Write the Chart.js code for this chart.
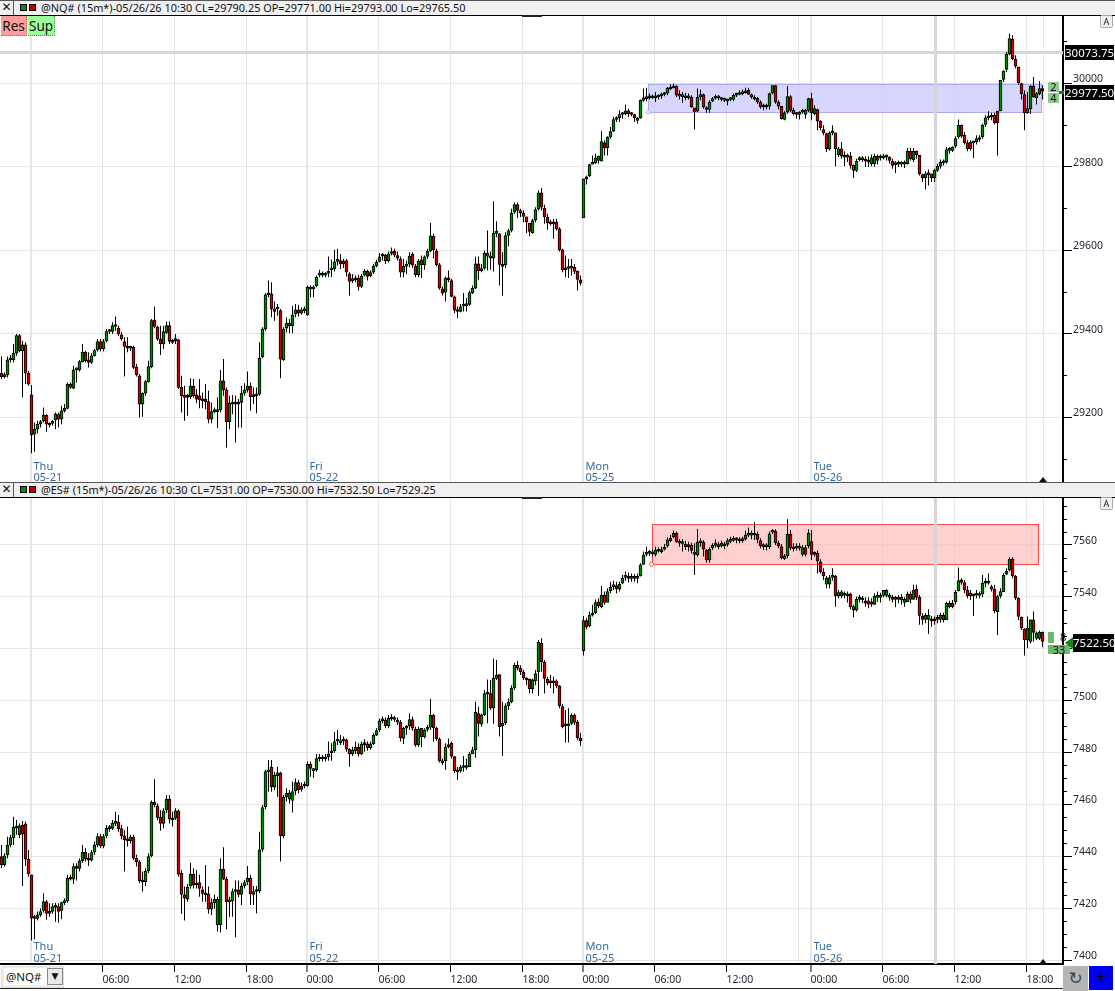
<!DOCTYPE html>
<html><head><meta charset="utf-8">
<script src="https://cdn.jsdelivr.net/npm/chart.js@4"></script>
<style>
html,body{margin:0;padding:0;background:#fff;width:1115px;height:991px;overflow:hidden}
body{position:relative;font-family:"Noto Sans",sans-serif;color:#111}
canvas{position:absolute;left:0}
.hdr{position:absolute;left:0;width:1115px;height:14px;background:#f0f0f0;border-top:1px solid #555;border-bottom:1px solid #000;box-sizing:content-box}
.hdr .x{position:absolute;left:0;top:0;width:13px;height:14px;border-right:1px solid #555;font:12px/13px "DejaVu Sans";text-align:center}
.hdr .g,.hdr .r{position:absolute;top:3px;width:5px;height:5px;border:1px solid #000}
.hdr .g{left:20px;background:#0a8a0a}.hdr .r{left:29px;background:#c00000}
.hdr .t{position:absolute;left:41px;top:0;font:10.9px/14px "Noto Sans";white-space:nowrap}
.btn{position:absolute;top:16px;height:20px;font:13.5px/20px "Noto Sans";text-align:center;box-sizing:border-box;border-right:1px dotted #777;border-bottom:1px dotted #777}
.tag{position:absolute;background:#000;color:#fff;font:11.5px/15px "Noto Sans";text-align:center}
.box{position:absolute;color:#111;font:11px/10px "Noto Sans";text-align:center}
.a{position:absolute;left:1100px;width:13px;height:13px;background:#f2f2f2;border:1px solid #aaa;box-sizing:border-box;font:9px/11px "Noto Sans";text-align:center;border-radius:2px}
.tri{position:absolute;width:0;height:0;border-left:4px solid transparent;border-right:4px solid transparent;border-bottom:5px solid #111}
.bump{position:absolute;left:522px;width:20px;height:2px;background:#222}
</style></head><body>
<canvas id="nq" width="1115" height="467" style="top:16px;width:1115px;height:467px"></canvas>
<canvas id="es" width="1115" height="494" style="top:497px;width:1115px;height:494px"></canvas>

<div class="hdr" style="top:0"><div class="x">✕</div><div class="g"></div><div class="r"></div><div class="t">@NQ# (15m*)-05/26/26 10:30 CL=29790.25 OP=29771.00 Hi=29793.00 Lo=29765.50</div></div>
<div class="hdr" style="top:482px"><div class="x">✕</div><div class="g"></div><div class="r"></div><div class="t">@ES# (15m*)-05/26/26 10:30 CL=7531.00 OP=7530.00 Hi=7532.50 Lo=7529.25</div></div>
<div class="bump" style="top:15px"></div><div class="bump" style="top:497px"></div>
<div class="btn" style="left:1px;width:26px;background:#ff9c9c">Res</div>
<div class="btn" style="left:28px;width:27px;background:#9cff9c">Sup</div>
<div class="a" style="top:15px">A</div><div class="a" style="top:497px">A</div>
<div class="tag" style="left:1065px;top:45px;width:49px;height:15px">30073.75</div>
<div class="tag" style="left:1065px;top:85px;width:49px;height:15px">29977.50</div>
<div class="box" style="left:1048px;top:82px;width:11px;height:10px;background:#8fcb8f">2</div>
<div class="box" style="left:1048px;top:93px;width:11px;height:10px;background:#8fcb8f">4</div>
<div style="position:absolute;left:1059px;top:91px;width:5px;height:3px;background:#0a8a0a"></div>
<div class="tag" style="left:1073px;top:634px;width:41px;height:18px;line-height:18px">7522.50</div>
<div class="box" style="left:1048px;top:632px;width:6px;height:11px;background:#6fb86f"></div>
<div class="box" style="left:1060px;top:632px;width:6px;height:11px">8</div>
<div class="box" style="left:1048px;top:645px;width:22px;height:9px;background:#6fb86f;line-height:9px">33</div>
<div style="position:absolute;left:1065px;top:637px;width:0;height:0;border-top:6px solid transparent;border-bottom:6px solid transparent;border-right:8px solid #0a8a0a"></div>
<div class="tri" style="left:1039px;top:477px"></div><div class="tri" style="left:1039px;top:959px"></div>

<div style="position:absolute;left:1px;top:966px;width:63px;height:22px;background:#eee;border:1px solid #ddd;box-sizing:border-box"></div>
<div style="position:absolute;left:4px;top:968px;width:42px;height:17px;background:#fff;font:11.5px/17px 'Noto Sans';padding-left:2px">@NQ#</div>
<div style="position:absolute;left:47px;top:968px;width:16px;height:17px;background:#e8e8e8;border:1px solid #888;box-sizing:border-box;font:9px/15px 'DejaVu Sans';text-align:center">▼</div>
<div style="position:absolute;left:0;top:988px;width:1063px;height:1px;background:#222"></div>
<div style="position:absolute;left:1063px;top:966px;width:25px;height:25px;background:#b5b5b5;font:17px/24px 'DejaVu Sans';text-align:center;color:#444">↻</div>
<div style="position:absolute;left:1089px;top:966px;width:24px;height:24px;background:#0000f0;font:13px/22px 'DejaVu Sans';text-align:center;color:#000">+</div>

<script>
const nqOpen=[
29305,29301,29301,29337,29337,29353,29395,29359,29373,29305,
29253,29159,29171,29183,29191,29205,29185,29185,29193,29207,
29195,29215,29221,29279,29269,29313,29313,29333,29355,29337,
29331,29347,29361,29381,29363,29383,29407,29405,29417,29413,
29397,29381,29367,29365,29367,29319,29299,29231,29257,29285,
29321,29433,29415,29387,29375,29403,29419,29381,29385,29385,
29271,29251,29249,29249,29274,29253,29251,29243,29243,29237,
29195,29213,29213,29217,29287,29265,29189,29231,29231,29231,
29235,29257,29265,29274,29251,29251,29255,29345,29411,29497,
29495,29459,29459,29455,29337,29413,29419,29419,29447,29457,
29449,29455,29445,29511,29507,29514,29540,29540,29540,29545,
29553,29555,29573,29575,29573,29575,29543,29527,29529,29533,
29513,29540,29549,29539,29547,29563,29573,29586,29588,29574,
29592,29597,29587,29579,29547,29561,29567,29590,29562,29541,
29577,29565,29585,29598,29633,29598,29565,29507,29499,29533,
29527,29488,29455,29453,29466,29467,29470,29498,29509,29567,
29551,29557,29593,29584,29581,29640,29639,29565,29565,29635,
29647,29691,29709,29695,29688,29680,29665,29642,29672,29699,
29737,29701,29679,29665,29665,29667,29651,29601,29557,29556,
29557,29559,29549,29529,29677,29771,29778,29806,29809,29815,
29813,29857,29845,29871,29885,29913,29917,29925,29927,29934,
29925,29925,29914,29917,29959,29963,29965,29965,29965,29967,
29970,29973,29976,29986,29989,29993,29969,29968,29965,29965,
29967,29941,29933,29967,29973,29937,29937,29957,29964,29965,
29961,29959,29957,29961,29961,29971,29973,29975,29977,29983,
29973,29962,29964,29954,29943,29943,29945,29977,29994,29954,
29945,29913,29931,29968,29935,29925,29925,29931,29925,29935,
29963,29927,29937,29909,29889,29879,29842,29881,29881,29829,
29843,29823,29823,29825,29803,29791,29817,29817,29815,29815,
29807,29807,29825,29821,29821,29823,29823,29813,29805,29806,
29806,29806,29807,29837,29817,29837,29827,29781,29773,29781,
29783,29773,29791,29801,29809,29811,29839,29839,29849,29871,
29899,29875,29857,29859,29857,29859,29865,29871,29901,29917,
29919,29923,29933,29934,30009,30033,30071,30105,30057,30039,
29999,29973,29929,29939,29993,29965,29975,29987];
const nqClose=[
29297,29297,29337,29339,29353,29395,29359,29373,29305,29279,
29157,29171,29183,29189,29205,29183,29181,29189,29207,29195,
29215,29221,29279,29271,29313,29315,29333,29356,29335,29331,
29347,29359,29381,29363,29381,29405,29405,29419,29421,29399,
29387,29369,29365,29367,29319,29301,29231,29257,29285,29321,
29431,29417,29387,29375,29405,29419,29381,29379,29383,29271,
29251,29247,29247,29274,29251,29243,29241,29239,29237,29195,
29213,29215,29217,29287,29265,29189,29233,29234,29234,29235,
29257,29265,29274,29249,29249,29255,29341,29411,29493,29493,
29459,29453,29461,29339,29411,29425,29425,29445,29457,29449,
29457,29459,29511,29507,29511,29535,29543,29543,29543,29550,
29555,29572,29575,29567,29567,29547,29525,29529,29531,29513,
29537,29550,29537,29546,29562,29571,29584,29589,29574,29591,
29593,29588,29581,29547,29561,29563,29586,29564,29541,29574,
29565,29584,29597,29634,29601,29565,29509,29497,29533,29529,
29489,29456,29453,29464,29469,29469,29498,29509,29567,29551,
29555,29593,29585,29581,29641,29641,29566,29561,29635,29646,
29689,29709,29695,29689,29681,29667,29645,29671,29697,29737,
29703,29680,29665,29663,29663,29651,29601,29553,29553,29559,
29559,29549,29530,29521,29771,29773,29805,29809,29821,29825,
29860,29845,29870,29884,29913,29914,29925,29927,29934,29927,
29927,29917,29911,29959,29965,29965,29969,29967,29967,29970,
29973,29975,29988,29989,29993,29971,29972,29970,29969,29968,
29943,29931,29966,29973,29943,29941,29954,29963,29967,29968,
29963,29961,29961,29964,29971,29973,29977,29978,29981,29973,
29967,29965,29955,29943,29945,29945,29975,29994,29955,29945,
29915,29929,29968,29935,29927,29927,29931,29933,29935,29963,
29929,29939,29909,29893,29881,29843,29881,29883,29843,29843,
29825,29825,29825,29803,29791,29813,29821,29819,29813,29811,
29821,29825,29815,29823,29825,29827,29815,29803,29807,29809,
29809,29809,29837,29819,29837,29829,29783,29773,29783,29785,
29773,29791,29801,29811,29811,29841,29841,29847,29867,29899,
29873,29857,29843,29843,29861,29867,29867,29899,29917,29919,
29921,29905,29905,30007,30029,30069,30107,30059,30041,30001,
29975,29929,29939,29993,29967,29975,29987,29981];
const nqHigh=[
29345,29307,29345,29349,29375,29399,29399,29383,29379,29311,
29277,29187,29191,29193,29223,29207,29187,29193,29211,29211,
29227,29231,29283,29283,29323,29319,29337,29375,29359,29355,
29353,29363,29387,29387,29387,29411,29411,29427,29441,29419,
29403,29391,29391,29371,29371,29327,29303,29259,29289,29335,
29435,29465,29419,29419,29419,29429,29429,29387,29399,29387,
29299,29275,29255,29293,29291,29267,29291,29259,29279,29263,
29235,29223,29247,29313,29339,29271,29251,29253,29251,29243,
29275,29281,29309,29283,29271,29271,29379,29415,29497,29527,
29523,29477,29471,29459,29415,29439,29435,29467,29471,29469,
29463,29465,29515,29515,29515,29539,29553,29549,29547,29585,
29577,29601,29603,29591,29579,29579,29547,29543,29539,29541,
29543,29555,29553,29551,29567,29577,29593,29593,29591,29597,
29606,29603,29597,29585,29579,29575,29595,29595,29567,29579,
29587,29587,29603,29665,29639,29603,29569,29513,29537,29551,
29531,29491,29465,29471,29497,29485,29503,29515,29584,29585,
29567,29599,29647,29597,29717,29669,29641,29595,29643,29651,
29699,29715,29714,29699,29695,29680,29665,29675,29703,29743,
29749,29709,29687,29673,29675,29675,29655,29603,29587,29579,
29579,29567,29551,29539,29771,29779,29807,29827,29831,29827,
29885,29863,29873,29895,29919,29921,29935,29931,29949,29939,
29931,29927,29919,29961,29987,29989,29975,29973,29979,29973,
29977,29979,29991,29997,29999,29995,29983,29979,29977,29975,
29971,29941,29987,29985,29975,29945,29959,29967,29973,29971,
29967,29965,29963,29967,29975,29977,29983,29985,29989,29989,
29975,29971,29967,29959,29951,29951,29977,29995,29995,29959,
29945,29933,29993,29971,29941,29931,29933,29939,29939,29965,
29977,29947,29939,29911,29899,29881,29885,29899,29881,29847,
29859,29837,29831,29835,29805,29819,29825,29825,29825,29825,
29829,29831,29829,29829,29831,29829,29825,29819,29813,29815,
29813,29815,29845,29845,29845,29839,29827,29783,29789,29793,
29783,29795,29807,29817,29817,29847,29847,29849,29873,29913,
29901,29883,29863,29863,29861,29875,29875,29903,29923,29933,
29929,29929,29933,30007,30031,30075,30119,30115,30067,30039,
30001,29983,29979,29995,30015,29979,30005,29995];
const nqLow=[
29291,29293,29295,29331,29331,29347,29355,29247,29279,29275,
29113,29117,29161,29175,29187,29165,29175,29179,29171,29175,
29183,29211,29219,29267,29267,29283,29309,29331,29331,29319,
29327,29345,29357,29357,29357,29379,29399,29399,29407,29395,
29383,29297,29355,29359,29315,29297,29199,29201,29251,29283,
29317,29413,29383,29349,29363,29399,29375,29375,29375,29267,
29211,29191,29203,29243,29247,29233,29221,29221,29219,29185,
29185,29209,29173,29211,29251,29127,29171,29207,29139,29175,
29175,29251,29259,29215,29231,29209,29251,29341,29407,29487,
29439,29431,29443,29293,29335,29403,29401,29401,29439,29441,
29445,29449,29443,29487,29487,29511,29535,29535,29535,29535,
29535,29549,29563,29555,29557,29537,29491,29521,29523,29503,
29509,29537,29527,29535,29543,29559,29571,29575,29567,29571,
29587,29583,29575,29535,29535,29543,29559,29557,29535,29535,
29533,29553,29579,29595,29580,29561,29505,29491,29477,29523,
29487,29449,29437,29451,29453,29453,29467,29495,29507,29529,
29547,29553,29551,29553,29549,29631,29515,29491,29557,29609,
29643,29687,29677,29679,29667,29641,29633,29639,29667,29695,
29695,29663,29649,29659,29627,29647,29597,29547,29535,29533,
29539,29543,29503,29515,29677,29757,29775,29805,29807,29807,
29813,29827,29827,29867,29883,29907,29907,29915,29923,29919,
29921,29907,29903,29915,29955,29957,29961,29963,29955,29961,
29963,29969,29971,29983,29987,29967,29961,29953,29959,29961,
29941,29889,29931,29959,29939,29929,29929,29955,29961,29959,
29957,29955,29947,29957,29957,29967,29971,29971,29975,29973,
29963,29959,29951,29939,29935,29937,29937,29973,29951,29937,
29913,29911,29927,29931,29923,29915,29913,29927,29915,29931,
29911,29923,29887,29887,29875,29835,29839,29875,29801,29823,
29819,29801,29811,29795,29773,29787,29813,29811,29799,29799,
29801,29799,29805,29815,29817,29815,29807,29795,29785,29799,
29799,29797,29805,29815,29811,29819,29779,29763,29745,29755,
29763,29763,29787,29795,29803,29807,29831,29835,29845,29867,
29869,29853,29837,29839,29821,29853,29859,29867,29895,29911,
29911,29901,29827,29933,30003,30027,30067,30055,30035,29997,
29961,29887,29927,29927,29965,29949,29971,29961];

const esOpen=[
7439.9,7436.8,7440.6,7444.4,7447.2,7450.9,7448.3,7452.1,7452.5,7438.9,
7432.9,7416.1,7416.1,7417.5,7419.2,7422.6,7418.8,7418.8,7420.4,7420.7,
7419.2,7422.2,7422.9,7431.6,7431.2,7436.3,7435.4,7438.4,7441.6,7439,
7438.6,7441.6,7444.4,7447.6,7444,7447.9,7450.7,7450.8,7452.7,7453.1,
7450.7,7447.9,7446.3,7446,7447.4,7439.3,7437.9,7430.2,7430.3,7434.4,
7440.2,7460.8,7459.5,7455,7452.7,7457.9,7462,7454,7454.7,7457.5,
7433.5,7425.2,7423.5,7428.6,7433.1,7429,7429.9,7427.1,7425.2,7425.6,
7419.7,7422.2,7413.6,7413.6,7435,7431.2,7422.5,7422.9,7426.5,7427.1,
7425.4,7428.6,7430.3,7431.6,7425.4,7426.5,7426.7,7442.7,7459.1,7472.5,
7474.3,7466.6,7471.1,7472.2,7447.9,7463,7462,7461.5,7465.3,7468.4,
7465.8,7467.1,7467.2,7475.4,7473,7473.3,7477.5,7477.5,7477.5,7478.4,
7479.9,7480.7,7484.4,7483.8,7484.4,7484.8,7481.2,7479.4,7480.7,7482,
7479.4,7483,7483.3,7481.8,7483.3,7486.7,7488.8,7492.2,7492.5,7490.3,
7492.9,7493.1,7492.5,7491.6,7485.4,7489.3,7490.3,7492.7,7489,7482.9,
7489.3,7486.1,7488.9,7489.7,7494.3,7489.3,7485.1,7476.6,7476.8,7482.2,
7483.5,7478.4,7472.9,7472.9,7474.2,7474.2,7474.5,7479.4,7481.1,7495,
7490.9,7494.5,7502.7,7502.7,7497,7508.5,7510,7490.2,7491.5,7497.9,
7499.5,7504.9,7513.5,7512.4,7510.9,7508.3,7508.1,7504.5,7507.6,7511.1,
7522,7514.7,7508.1,7507.2,7507.2,7507.6,7505.6,7497.7,7490.2,7490.2,
7491.2,7494.3,7491.6,7485.4,7519.2,7530.7,7528.7,7532.8,7533.8,7538,
7536.1,7540.5,7537.7,7542.3,7543.8,7544.2,7542.8,7545.1,7547.4,7547.7,
7547,7547,7547,7548,7552.4,7556.2,7556.6,7556.4,7556.2,7557.5,
7557.3,7558.2,7559.6,7561.5,7563,7564.3,7560.5,7560.4,7559.2,7559.2,
7559.8,7557,7556,7560.7,7560.9,7557.9,7554.1,7558.8,7559.7,7559.2,
7559.5,7559.5,7560.1,7561.2,7561.6,7561.8,7561.4,7561.5,7562.1,7563.6,
7563.6,7563.6,7563.9,7561.5,7559.2,7559.1,7559.2,7564.8,7565.2,7560.5,
7559.2,7554.6,7555.7,7563.9,7558.4,7558.6,7558.6,7556.2,7558.8,7559.5,
7561.1,7556.2,7556.6,7553.4,7549.3,7544.8,7544.8,7547.4,7547.9,7540.2,
7540.2,7540.5,7540.2,7540.9,7536.1,7534.8,7538.9,7538.7,7538.3,7538.3,
7538,7537,7539.7,7539.7,7540.4,7540.4,7539.7,7539.7,7538.9,7538.9,
7539.7,7537.7,7538,7540.9,7538.9,7542.8,7539.7,7532.5,7531.2,7531.2,
7531.4,7531.4,7532,7531.2,7532.8,7531,7536.1,7537.4,7538,7542.3,
7546.4,7545.4,7542.5,7541.3,7540.2,7540.5,7540.4,7541,7545.1,7545.1,
7543.8,7542.8,7534.2,7540.2,7541.9,7548.6,7550.1,7554.4,7547.9,7539.3,
7532,7527.5,7523.3,7522.7,7531,7523.9,7523.9,7526.2];
const esClose=[
7436.8,7440.2,7444.4,7447.2,7451.2,7451.5,7451.8,7448.6,7438.9,7433.3,
7416.2,7416.5,7417.5,7418.8,7422.6,7418.1,7418.1,7420.7,7420.9,7418.8,
7422.2,7422.6,7431.6,7431.2,7436.1,7435.4,7438.3,7441.6,7439,7438.6,
7441.5,7444.4,7447.6,7444,7447.6,7450.8,7451.1,7452.7,7453.1,7450.7,
7447.9,7446.3,7446,7447.4,7439.3,7438,7430.7,7430.7,7434.4,7439.9,
7460.8,7459.8,7455,7452.7,7457.5,7462,7454.3,7454.4,7457.5,7433.1,
7425.4,7423.9,7428.1,7433.1,7429,7429.4,7427.7,7425.8,7425.8,7419.7,
7422.2,7423.5,7423.5,7435,7431.2,7422.6,7422.9,7426.5,7426.8,7425.4,
7428.6,7429.9,7431.6,7425.6,7426.5,7426.7,7442.5,7458.8,7472.6,7472.9,
7466.8,7471.3,7472.2,7448,7462.7,7464.3,7464.5,7464.9,7468.4,7465.6,
7467.1,7467.5,7475.4,7473.9,7473.5,7477.6,7477.9,7477.9,7477.9,7479.4,
7480.6,7484.2,7484.8,7484.4,7484.8,7481.3,7479.4,7480.9,7482,7479.4,
7483.3,7483.5,7481.8,7483.3,7486.6,7488.4,7492.2,7492.7,7490.3,7493.1,
7493.3,7492.7,7491.7,7485.7,7489.3,7489.7,7492.7,7489.3,7482.9,7489,
7486.1,7488.6,7489.3,7494.3,7489.5,7485.3,7476.8,7476,7482.1,7483,
7478.6,7472.9,7472.5,7474.4,7474.5,7474.5,7479.3,7481,7495.4,7491.2,
7494.4,7502.7,7502.4,7497,7508.5,7509.8,7489.9,7491.2,7497.9,7499.4,
7504.7,7513.5,7512.4,7511.1,7508.8,7507.9,7504.5,7507.9,7510.4,7522.4,
7514.9,7508.5,7506.8,7506.8,7506.8,7505.6,7498,7489.9,7490.6,7490.6,
7494.3,7491.6,7485.7,7484.5,7530.7,7528.2,7532.8,7533.3,7537.7,7536.4,
7540.5,7537.7,7541.9,7543.6,7544.2,7542.9,7544.7,7547,7547.9,7547,
7547.7,7547.7,7547.7,7552.2,7556,7556.6,7556.9,7556.9,7557.9,7557.9,
7557.9,7558.9,7561.8,7562.4,7564.3,7561.1,7561,7560.7,7560.1,7559.8,
7557.7,7556.2,7560.9,7561.1,7558.2,7554.1,7558.2,7559.7,7560.2,7559.7,
7560.5,7560.1,7561.5,7561.8,7562,7562.3,7561.8,7562,7563.6,7563.9,
7563.9,7563.9,7562,7559.6,7559.6,7559.5,7564.1,7565.2,7560.7,7559.6,
7555,7555.6,7563.9,7558.8,7558.9,7558.9,7558.9,7558.8,7556.2,7564.3,
7556.2,7556.6,7553.7,7549.6,7547.9,7547,7547.3,7547.7,7540.2,7541.5,
7541.8,7541,7541,7536.1,7534.8,7538.9,7539.3,7539.3,7537.4,7537.1,
7537.1,7540.2,7540.2,7540.2,7542.4,7542.4,7540.2,7538.9,7539.3,7539.6,
7538.7,7538.9,7540.9,7538.9,7542.5,7539.7,7532.7,7531.2,7532.8,7532.8,
7530.6,7530.6,7531.2,7532.8,7531,7537.4,7537.4,7536.1,7541.6,7546.1,
7545.4,7542.5,7540.2,7540.2,7541,7541,7541,7545.1,7545.6,7545.7,
7542.8,7534.6,7540,7541.9,7548.3,7549.8,7554.4,7548,7539.6,7532.3,
7527.8,7523.3,7527.8,7531,7526.2,7525.9,7526.2,7522.7];
const esHigh=[
7444.4,7441.2,7447.6,7448.3,7455.3,7454,7452.7,7453.6,7453.4,7442.5,
7432.9,7417.5,7418.8,7420,7425.8,7423.3,7422,7422,7422.2,7422,
7422.6,7423.9,7432.9,7432.9,7437.4,7437.4,7439.3,7444.4,7443.1,7441.2,
7442.5,7445.7,7448.9,7448.6,7448.6,7452.1,7452.1,7454,7457.2,7455.9,
7452.1,7450.2,7451.5,7448.3,7448.3,7440.6,7438.6,7434.2,7435.4,7441.2,
7461.5,7469.7,7460.4,7457.9,7458.5,7463.6,7463.6,7457.2,7458.5,7458.1,
7434.8,7428.4,7429.4,7437.6,7435.4,7434.8,7432.9,7428.4,7436.7,7428.4,
7423.9,7425.2,7424.5,7439.3,7443.5,7432.2,7424.5,7427.7,7430.7,7430.7,
7429.7,7430.9,7436.3,7432.9,7428.6,7428.6,7449.5,7459.8,7473.3,7477.1,
7477.1,7472.6,7474.5,7472.6,7463.6,7466.2,7465.6,7468.8,7470,7469.4,
7468.4,7468.8,7476.5,7476.5,7473.9,7479.4,7479.4,7479,7479.4,7484.2,
7483.5,7488,7488.6,7486.7,7486.1,7485.4,7481.6,7482.2,7484.2,7483.5,
7484.2,7485.1,7484.2,7484.2,7487.4,7489.3,7493.1,7493.8,7493.5,7494.4,
7494.8,7494,7493.5,7492.5,7489.9,7490.6,7495,7493.8,7489.9,7489.9,
7489.3,7489.3,7490.6,7500.6,7494.8,7489.9,7485.8,7477.7,7483.5,7485.4,
7484.2,7478.6,7474.5,7475.2,7478.6,7477.7,7480.3,7482.2,7499.5,7497.6,
7495,7504,7508.1,7507.9,7516.2,7515.6,7510,7499.5,7498.9,7500.8,
7505.9,7514.5,7515.2,7513.6,7511.7,7508.8,7508.5,7508.5,7511.7,7523.3,
7523.9,7515.6,7509.1,7509.8,7509.1,7508.1,7505.9,7498.6,7496.3,7497,
7495,7495,7492.5,7487.6,7532.5,7531.6,7534.2,7536.8,7538.9,7539.3,
7544.1,7541.9,7543.2,7545.7,7546.1,7545.7,7545.7,7548.3,7549.6,7549.2,
7548.9,7548.7,7548.9,7552.8,7557.3,7559.2,7557.9,7558.2,7559.2,7558.9,
7559.2,7560.2,7562.8,7563.7,7565.4,7565,7562,7562,7561.5,7561.1,
7560.7,7560.5,7566,7562.4,7561.8,7558.2,7558.9,7560.5,7562,7561.1,
7561.5,7561.1,7562.4,7563,7563.3,7562.8,7562.8,7563,7565.4,7566.6,
7565.4,7568.6,7565,7562.4,7560.5,7560.5,7565,7565.9,7565.9,7561.5,
7560.2,7556.4,7569.7,7565.6,7560.5,7560.5,7560.5,7559.8,7559.8,7565.9,
7565.6,7557.3,7557.7,7554.3,7550.9,7547.9,7548.3,7550.9,7548.3,7542.5,
7542.5,7541.9,7541.9,7541.5,7536.8,7540,7540.6,7540.2,7539.7,7539.7,
7539.3,7541.3,7541.9,7541.5,7542.5,7542.8,7541.3,7540.6,7540.2,7540.6,
7541,7539.7,7541.9,7541.9,7544.5,7544.5,7540.6,7533.6,7533.6,7535.1,
7532.5,7532.3,7532.9,7533.8,7533.8,7538,7538.4,7538.7,7542.5,7551.2,
7547,7546.4,7544.1,7542.5,7541,7542.5,7541.9,7548.3,7547,7548.9,
7544.5,7544.5,7540.6,7543.2,7549,7550.9,7555.1,7555.1,7548.3,7539.7,
7532.3,7527.8,7532.3,7531.2,7534.2,7526.5,7526.9,7526.5];
const esLow=[
7435.4,7436.1,7439.3,7443.5,7444.4,7448.3,7447,7428.6,7436.3,7432.2,
7407.6,7408.1,7415.3,7416.8,7418.4,7415.6,7416.8,7417.9,7414.9,7414.5,
7415.8,7421.3,7422.2,7430.7,7429.4,7430.7,7434.2,7437.6,7438,7436.3,
7438,7440.6,7443.5,7443.1,7443.1,7447,7449.5,7450.2,7451.7,7449.5,
7446.6,7434.2,7443.8,7445,7438.6,7436.1,7429.7,7426.5,7428.6,7433.5,
7439.7,7458.9,7454,7449.9,7450.8,7456.6,7452.7,7451.5,7454,7432.2,
7417.9,7415.3,7422.6,7427.7,7427.7,7427.7,7424.5,7422.6,7422.6,7417.9,
7417.5,7420,7411.1,7410.7,7430.9,7412,7416.8,7416.8,7408.9,7424.3,
7421.3,7427.7,7429,7421.3,7421.3,7418.1,7425.8,7441.8,7458.1,7464.9,
7464.9,7465.6,7463,7438,7447,7461.1,7460.4,7456.9,7463.6,7464.3,
7464.9,7466.2,7466.8,7470.7,7470.3,7472.6,7476.5,7476.5,7476.5,7476.8,
7476.8,7479.9,7482.9,7482.9,7482.9,7480.3,7474.5,7478.6,7479.4,7478.4,
7479,7480.3,7480.7,7481,7482.9,7486.3,7488,7491.2,7489.3,7489.3,
7492.2,7491.8,7490.6,7484.2,7483.3,7486.7,7488.6,7488.4,7482.2,7482.2,
7482,7485.4,7488,7488.6,7484.2,7484.5,7476.1,7475.2,7473.3,7481.6,
7477.7,7472,7469.4,7472.2,7472.6,7473.3,7478.1,7479.9,7478,7486.1,
7489.9,7494,7491.2,7496.3,7491,7507.9,7486.1,7478.6,7490.6,7496.3,
7498.9,7504,7511.5,7509.8,7507.9,7505.9,7502.7,7502.7,7505.9,7501.8,
7511.1,7502.7,7505.9,7504.7,7502.7,7504.7,7497,7489.3,7483.8,7483.8,
7490.6,7490.6,7484.8,7482.5,7517.3,7527.4,7528.2,7532.3,7533.3,7535.5,
7535.5,7536.8,7540.6,7541.3,7542.5,7541.3,7541.9,7544.8,7546.1,7545.4,
7545.7,7545.7,7545.1,7547.7,7552.2,7555.4,7555.6,7555.4,7555.4,7556.9,
7556.6,7557.7,7558.9,7560.9,7562.4,7560.7,7559.2,7557.3,7557.9,7557.3,
7556.6,7548.3,7555.4,7559.2,7555.4,7553,7553,7557.9,7558.9,7558.2,
7558.9,7558.2,7559.2,7560.5,7561.1,7560.5,7560.5,7560.7,7561.5,7562.8,
7562,7561.8,7560.5,7558.6,7557.9,7557.7,7558.2,7564.1,7559.8,7558.6,
7554.3,7554.1,7554.7,7557.9,7557.3,7557.7,7557.7,7555.4,7555.4,7558.6,
7554.1,7555.4,7548.9,7548.9,7546.4,7543.2,7543.2,7546.1,7536.1,7539.3,
7539.3,7539.3,7537.7,7535.1,7532,7534.2,7537.7,7537.4,7536.1,7535.5,
7536.1,7536.8,7538,7537.7,7539.7,7539.7,7538.4,7537.7,7535.9,7537.4,
7536.8,7536.1,7538.4,7537.4,7538.9,7538.7,7529.1,7529.1,7529.7,7525.6,
7528.4,7529.1,7529.7,7530,7530,7531,7535.5,7535.5,7536.8,7541.9,
7544.5,7541.3,7539.3,7538.7,7532.5,7539.3,7539.3,7539.7,7543.6,7544.5,
7541.9,7533.6,7525.2,7539.3,7547,7548.3,7549.6,7547,7538.7,7531,
7527.1,7517.3,7520.1,7522,7522.7,7523.3,7523.3,7520.5];

const xGridSlots=[10,34,58,82,102,126,150,174,194,218,242,266,270,294,318,342];
const dayLineSlots=[10,102,194,270];
const xLabelSlots=[34,58,82,102,126,150,174,194,218,242,270,294,318,342];
const xLabelTexts=["06:00","12:00","18:00","00:00","06:00","12:00","18:00","00:00","06:00","12:00","00:00","06:00","12:00","18:00"];
const dayNames=["Thu","Fri","Mon","Tue"];
const dayDates=["05-21","05-22","05-25","05-26"];
const cursorSlot=311, lastSlot=347.33;

const UP='#008a00',DOWN='#cc0000',GRID='#e6e6e6',TXT='#1b2330';

function candlePlugin(cfg){return{
  id:'extras'+cfg.id,
  beforeDatasetsDraw(ch){
    const {ctx,chartArea:a,scales:{x,y}}=ch;
    ctx.save();
    const xl=x.getPixelForValue(cfg.zone[0]),xr=x.getPixelForValue(cfg.zone[1]);
    const yt=y.getPixelForValue(cfg.zone[2]),yb=y.getPixelForValue(cfg.zone[3]);
    ctx.fillStyle=cfg.zoneFill;ctx.fillRect(xl,yt,xr-xl,yb-yt);
    ctx.strokeStyle=cfg.zoneLine;ctx.lineWidth=1;ctx.strokeRect(Math.round(xl)+.5,Math.round(yt)+.5,Math.round(xr-xl),Math.round(yb-yt));
    ctx.beginPath();ctx.arc(xl,yb,2,0,7);ctx.fillStyle='#fff';ctx.fill();ctx.stroke();
    ctx.fillStyle='#d6d6d6';
    ctx.fillRect(Math.round(x.getPixelForValue(cursorSlot))-1,a.top,3,a.bottom-a.top);
    if(cfg.hLine!=null)ctx.fillRect(0,Math.round(y.getPixelForValue(cfg.hLine))-1,a.right,3);
    ctx.fillStyle=GRID;ctx.fillRect(Math.round(x.getPixelForValue(lastSlot)),a.top,1,a.bottom-a.top);
    ctx.fillStyle='#000';
    y.ticks.forEach(t=>{if(t.value%cfg.major!==0)ctx.fillRect(a.right,Math.round(y.getPixelForValue(t.value)),4,1);});
    ctx.fillStyle='#356a9c';ctx.font='11px "Noto Sans"';ctx.textBaseline='middle';ctx.textAlign='left';
    dayLineSlots.forEach((s,i)=>{const p=x.getPixelForValue(s-1/3)+3;
      ctx.fillText(dayNames[i],p,a.bottom-cfg.dayA);ctx.fillText(dayDates[i],p,a.bottom-5);});
    ctx.restore();
  }
};}

function build(cfg){
  const labels=new Map(xLabelSlots.map((s,i)=>[s-1/3,xLabelTexts[i]]));
  return new Chart(document.getElementById(cfg.id),{
    type:'bar',
    data:{datasets:[
      {data:cfg.o.map((v,i)=>({x:i,y:[v,cfg.c[i]]})),grouped:false,order:1,
       backgroundColor:cfg.o.map((v,i)=>cfg.c[i]>=v?UP:DOWN),borderColor:'#000',borderWidth:1,borderSkipped:false,
       barPercentage:1,categoryPercentage:1,minBarLength:2},
      {data:cfg.l.map((v,i)=>({x:i,y:[v,cfg.h[i]]})),grouped:false,order:2,
       backgroundColor:'#000',borderWidth:0,barPercentage:1/3,categoryPercentage:1}
    ]},
    options:{
      responsive:false,animation:false,devicePixelRatio:1,
      layout:{padding:0},
      plugins:{legend:{display:false},tooltip:{enabled:false}},
      scales:{
        x:{type:'linear',min:-0.5,max:353.83,offset:false,
          afterBuildTicks(s){s.ticks=xGridSlots.map(v=>({value:v-1/3}));},
          afterFit(s){s.height=cfg.xh;s.paddingLeft=0;s.paddingRight=0;},
          grid:{offset:false,color:GRID,lineWidth:c=>dayLineSlots.includes(Math.round((c.tick?c.tick.value:0)+1/3))?2:1,
            drawTicks:cfg.xh>0,tickLength:8,tickColor:c=>labels.has(c.tick&&c.tick.value)?'#000':'rgba(0,0,0,0)',tickWidth:1},
          border:{display:cfg.xh>0,color:'#000',width:2},
          ticks:{display:cfg.xh>0,autoSkip:false,maxRotation:0,minRotation:0,align:'start',padding:2,color:TXT,
            font:{family:'"Noto Sans"',size:10.5},
            callback:v=>labels.get(v)||''}
        },
        y:{type:'linear',position:'right',min:cfg.yMin,max:cfg.yMax,
          afterFit(s){s.width=52;s.paddingTop=0;s.paddingBottom=0;},
          grid:{color:c=>c.tick&&c.tick.value%cfg.major===0?GRID:'rgba(0,0,0,0)',lineWidth:1,
            tickLength:9,tickColor:c=>c.tick&&c.tick.value%cfg.major===0?'#000':'rgba(0,0,0,0)'},
          border:{display:true,color:'#000',width:2},
          ticks:{stepSize:cfg.step,includeBounds:false,autoSkip:false,padding:1,color:TXT,
            font:{family:'"Noto Sans"',size:10.5,lineHeight:.75},
            callback:v=>v%cfg.major===0?[String(v),'']:''}
        }
      }
    },
    plugins:[candlePlugin(cfg)]
  });
}

build({id:'nq',o:nqOpen,h:nqHigh,l:nqLow,c:nqClose,yMin:29042,yMax:30161,step:100,major:200,xh:0,dayA:16,
  zone:[215.5,346.5,29999,29931],zoneFill:'rgba(200,200,255,.75)',zoneLine:'#aaaaf5',hLine:30073.75});
build({id:'es',o:esOpen,h:esHigh,l:esLow,c:esClose,yMin:7398.6,yMax:7578.3,step:5,major:20,xh:27,dayA:17,
  zone:[216.67,345.5,7567.8,7552.4],zoneFill:'rgba(255,190,190,.72)',zoneLine:'#ff4d4d',hLine:null});
</script>
</body></html>
